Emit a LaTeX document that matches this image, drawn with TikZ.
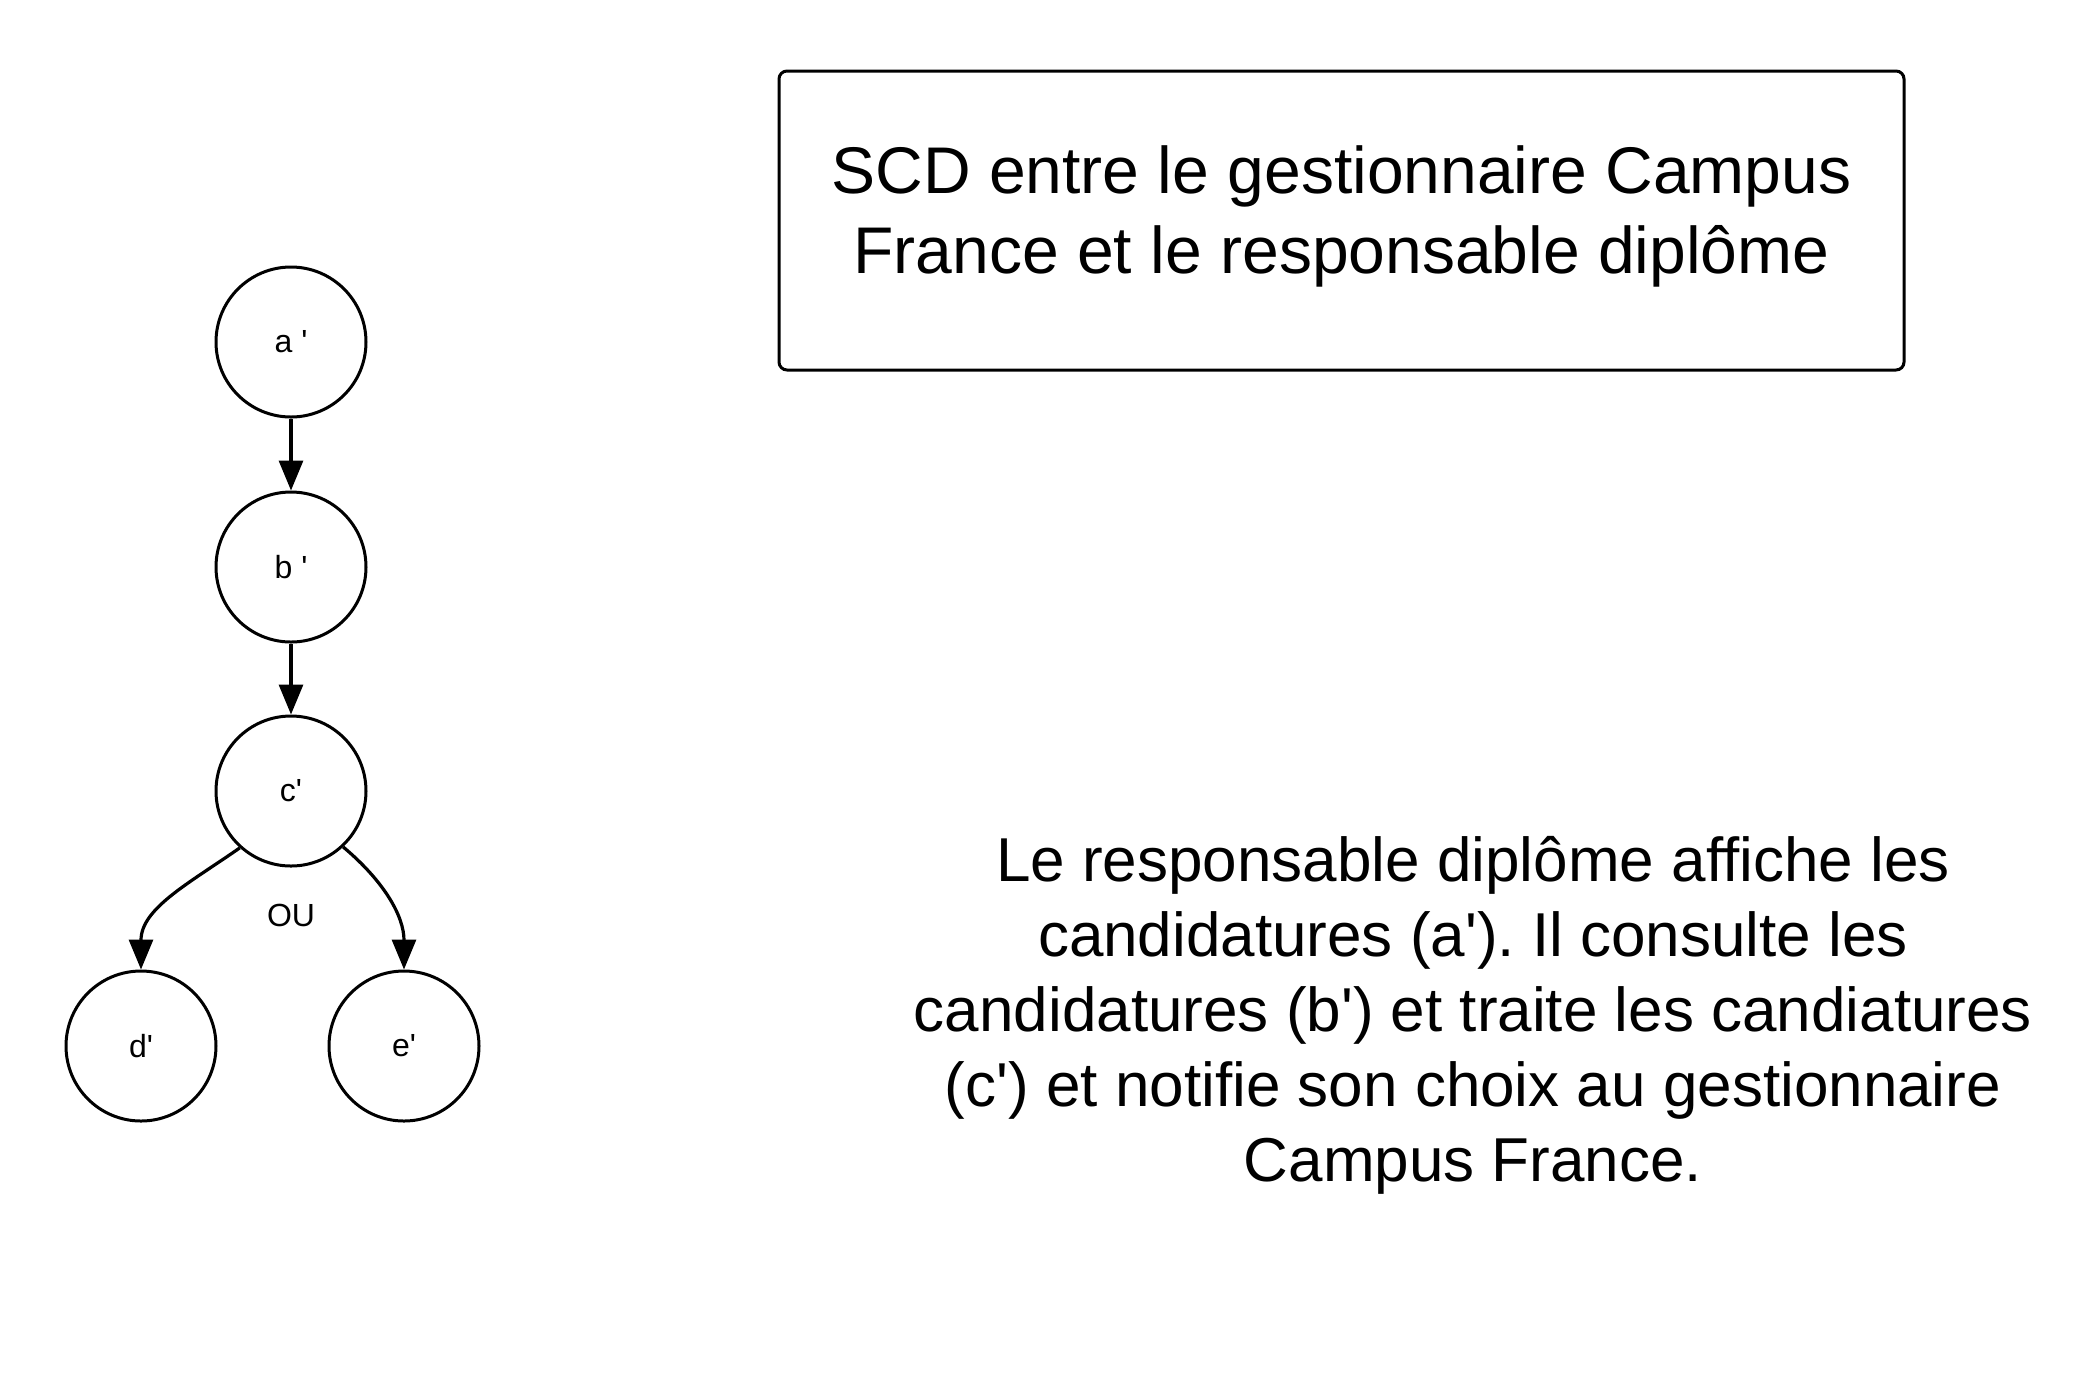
\documentclass[tikz,border=0pt]{standalone}
\usepackage{fontspec}
\setmainfont{Liberation Sans}[Ligatures=TeXOff]
\usetikzlibrary{arrows.meta}
\frenchspacing
\tikzset{
  etat/.style={circle, draw, line width=1.5pt, minimum size=75pt, inner sep=0pt,
    font=\fontsize{16}{19}\selectfont},
  fleche/.style={-{Triangle[length=15pt,width=12pt]}, line width=1.6pt},
}
\begin{document}
\begin{tikzpicture}[x=0.5pt,y=-0.5pt]
  \useasboundingbox (0,0) rectangle (2092,1383);
  % les etats
  \node[etat] (a) at (291,342) {a '};
  \node[etat] (b) at (291,567) {b '};
  \node[etat] (c) at (291,791) {c'};
  \node[etat] (d) at (141,1046) {d'};
  \node[etat] (e) at (404,1046) {e'};
  \node[font=\fontsize{16}{19}\selectfont] (ou) at (291,915) {OU};
  % les transitions
  \foreach \de/\vers in {a/b,b/c}{
    \draw[fleche] (\de) -- (\vers);
  }
  \draw[fleche] (c.228) to[out=215,in=90] (d.north);
  \draw[fleche] (c.-47) to[out=-40,in=90] (e.north);
  % le titre
  \node[draw, line width=1.5pt, rounded corners=4pt, minimum width=562.5pt,
    minimum height=149.5pt] (titre) at (1341.5,220.5) {};
  \node[align=center, font=\fontsize{33}{40}\selectfont] (titretexte)
    at ([yshift=2pt]titre.center)
    {SCD entre le gestionnaire Campus\\France et le responsable diplôme};
  % le texte
  \node[align=center, font=\fontsize{31}{37.5}\selectfont] (texte) at (1473,1015)
    {Le responsable diplôme affiche les\\
     candidatures (a'). Il consulte les\\
     candidatures (b') et traite les candiatures\\
     (c') et notifie son choix au gestionnaire\\
     Campus France.};
\end{tikzpicture}
\end{document}
